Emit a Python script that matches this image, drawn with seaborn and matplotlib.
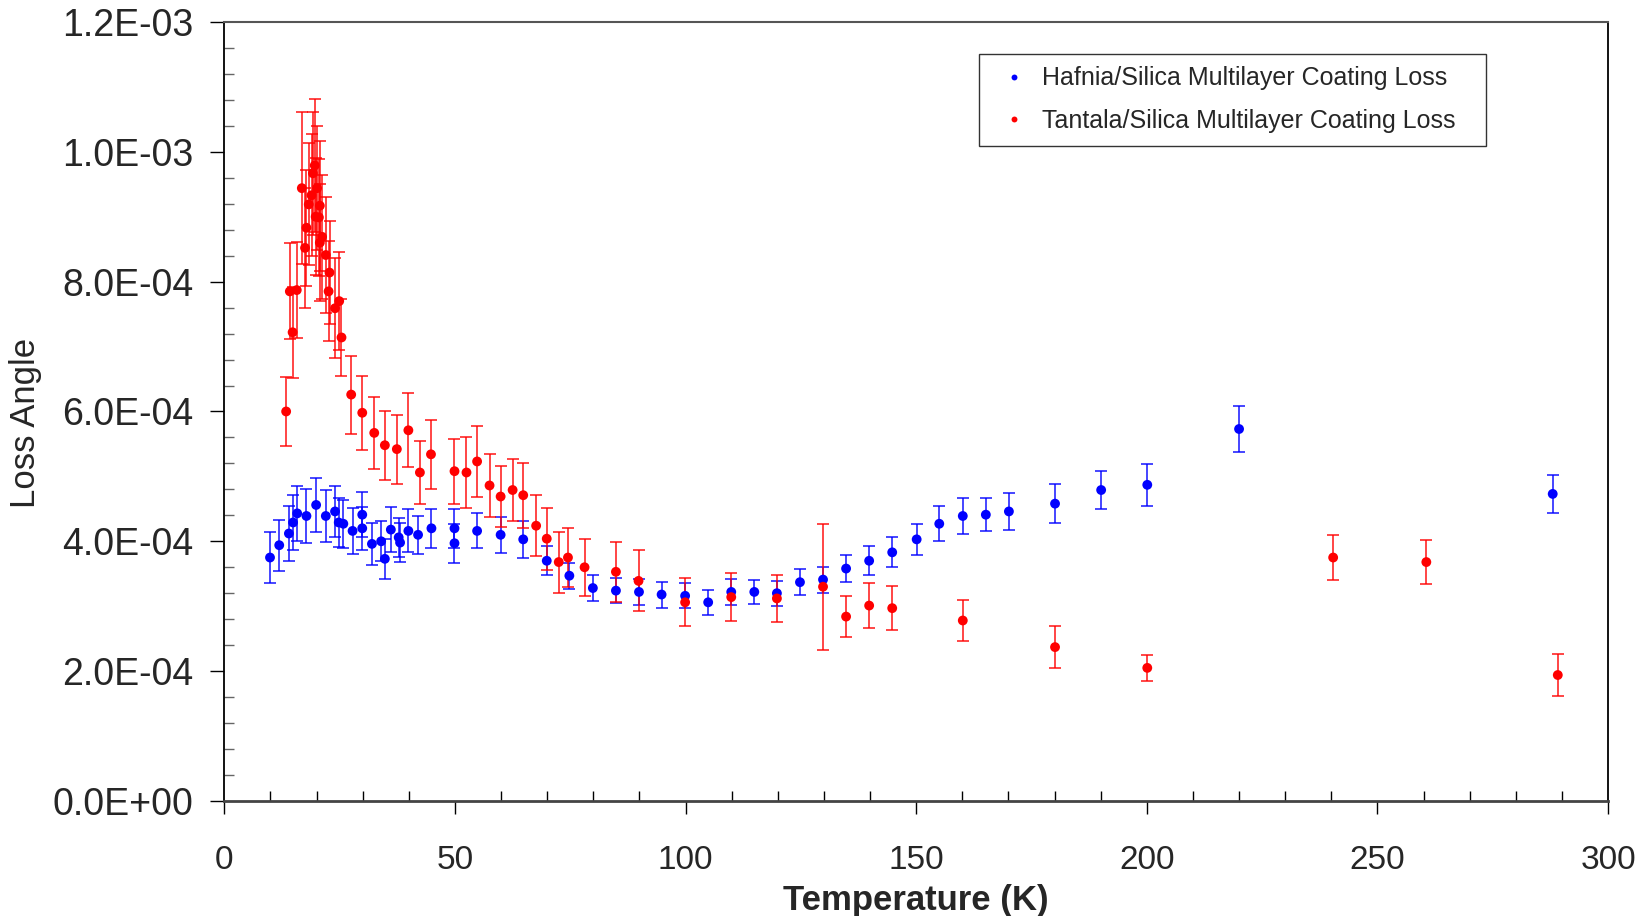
import numpy as np
import pandas as pd
import matplotlib
matplotlib.use("Agg")
import matplotlib.pyplot as plt
import seaborn as sns
from matplotlib.ticker import MultipleLocator, FuncFormatter

sns.set_style("white")
plt.rcParams["font.family"] = ["Liberation Sans", "DejaVu Sans"]

# Hafnia/Silica (blue): temperature (K), loss angle (1e-4), error (1e-4)
hafnia_T = [9.9, 11.9, 14.0, 14.9, 15.8, 17.8, 19.9, 22.0, 24.0, 24.8, 25.8, 27.8,
            29.9, 29.9, 32.0, 34.0, 34.8, 36.1, 37.8, 38.1, 39.9, 42.0, 44.9, 49.9,
            49.9, 54.8, 59.9, 64.8, 69.9, 74.8, 79.9, 84.9, 89.9, 94.8, 99.9, 104.9,
            109.9, 114.9, 119.8, 124.8, 129.8, 134.8, 139.8, 144.8, 150.1, 155.0,
            160.1, 165.1, 170.1, 180.1, 190.1, 200.1, 220.0, 288.0]
hafnia_loss = [3.75, 3.94, 4.12, 4.29, 4.43, 4.39, 4.56, 4.39, 4.46, 4.29, 4.27, 4.16,
               4.41, 4.20, 3.96, 4.00, 3.73, 4.18, 4.06, 3.98, 4.16, 4.10, 4.20, 4.20,
               3.97, 4.16, 4.10, 4.03, 3.70, 3.47, 3.28, 3.24, 3.22, 3.18, 3.16, 3.06,
               3.22, 3.22, 3.20, 3.37, 3.41, 3.58, 3.70, 3.83, 4.03, 4.27,
               4.39, 4.41, 4.46, 4.58, 4.79, 4.87, 5.73, 4.73]
hafnia_err = [0.40, 0.39, 0.42, 0.42, 0.42, 0.42, 0.41, 0.40, 0.39, 0.38, 0.37, 0.36,
              0.35, 0.33, 0.32, 0.31, 0.31, 0.35, 0.30, 0.30, 0.33, 0.29, 0.30, 0.30,
              0.30, 0.27, 0.28, 0.28, 0.22, 0.20, 0.20, 0.19, 0.20, 0.20, 0.19, 0.19,
              0.20, 0.19, 0.19, 0.20, 0.20, 0.21, 0.22, 0.23, 0.24, 0.27,
              0.27, 0.25, 0.28, 0.30, 0.29, 0.32, 0.36, 0.29]

# Tantala/Silica (red)
tantala_T = [13.4, 14.2, 14.8, 15.7, 16.8, 17.5, 17.8, 18.3, 18.9, 19.2, 19.6, 19.8,
             20.1, 20.5, 20.7, 20.7, 21.2, 22.0, 22.6, 22.8, 24.0, 24.9, 25.4, 27.5,
             29.9, 32.5, 34.8, 37.4, 39.9, 42.4, 44.8, 49.9, 52.5, 54.8, 57.5, 59.9,
             62.5, 64.8, 67.6, 69.9, 72.5, 74.5, 78.1, 84.9, 89.8, 99.9, 109.9, 119.8,
             129.8, 134.8, 139.8, 144.8, 160.1, 180.1, 200.1, 240.4, 260.6, 289.1]
tantala_loss = [6.00, 7.85, 7.22, 7.87, 9.44, 8.52, 8.83, 9.19, 9.33, 9.67, 9.79, 9.00,
                9.44, 8.99, 9.17, 8.60, 8.69, 8.41, 7.85, 8.14, 7.59, 7.70, 7.14, 6.26,
                5.98, 5.67, 5.48, 5.42, 5.71, 5.06, 5.34, 5.08, 5.06, 5.23, 4.86, 4.69,
                4.79, 4.71, 4.24, 4.04, 3.68, 3.75, 3.60, 3.53, 3.39, 3.06, 3.14, 3.12,
                3.30, 2.84, 3.01, 2.97, 2.78, 2.37, 2.05, 3.75, 3.68, 1.94]
tantala_err = [0.53, 0.74, 0.70, 0.74, 1.17, 0.93, 0.89, 0.94, 0.94, 0.95, 1.03, 0.90,
               0.96, 0.90, 1.00, 0.90, 0.96, 0.89, 0.77, 0.80, 0.77, 0.76, 0.60, 0.60,
               0.57, 0.55, 0.53, 0.53, 0.57, 0.49, 0.53, 0.50, 0.55, 0.54, 0.49, 0.47,
               0.48, 0.50, 0.47, 0.48, 0.47, 0.45, 0.44, 0.46, 0.47, 0.37, 0.37, 0.36,
               0.97, 0.31, 0.35, 0.34, 0.32, 0.32, 0.20, 0.34, 0.34, 0.32]

labels = ["Hafnia/Silica Multilayer Coating Loss", "Tantala/Silica Multilayer Coating Loss"]
colors = ["#0000FF", "#FF0000"]

df = pd.concat([
    pd.DataFrame({"T": hafnia_T, "loss": np.array(hafnia_loss) * 1e-4,
                  "err": np.array(hafnia_err) * 1e-4, "series": labels[0]}),
    pd.DataFrame({"T": tantala_T, "loss": np.array(tantala_loss) * 1e-4,
                  "err": np.array(tantala_err) * 1e-4, "series": labels[1]}),
], ignore_index=True)

fig = plt.figure(figsize=(16.52, 9.16), dpi=100)
ax = fig.add_axes([0.1358, 0.1256, 0.9734 - 0.1358, 0.976 - 0.1256])

for lab, col in zip(labels, colors):
    sub = df[df["series"] == lab]
    ax.errorbar(sub["T"], sub["loss"], yerr=sub["err"], fmt="none",
                ecolor=col, elinewidth=1.2, capsize=4.5, capthick=1.2, alpha=0.85, zorder=2)

sns.scatterplot(data=df, x="T", y="loss", hue="series", palette=colors,
                hue_order=labels, s=50, edgecolor="none", ax=ax, zorder=3)

ax.set_xlim(0, 300)
ax.set_ylim(0, 1.2e-3)
ax.xaxis.set_major_locator(MultipleLocator(50))
ax.xaxis.set_minor_locator(MultipleLocator(10))
ax.yaxis.set_major_locator(MultipleLocator(2e-4))
ax.yaxis.set_minor_locator(MultipleLocator(0.4e-4))
ax.yaxis.set_major_formatter(FuncFormatter(lambda v, p: "{:.1E}".format(v)))

ax.tick_params(axis="x", which="major", direction="out", length=9, width=1,
               labelsize=24, pad=23, color="black")
ax.tick_params(axis="x", which="minor", direction="in", length=7, width=1, color="black")
ax.tick_params(axis="y", which="major", direction="out", length=10, width=1,
               labelsize=27, pad=12, color="black")
ax.tick_params(axis="y", which="minor", direction="in", length=7, width=1, color="#666666")
ax.tick_params(bottom=True, left=True, top=False, right=False, which="both")

for side in ["left", "right"]:
    ax.spines[side].set_color("black")
    ax.spines[side].set_linewidth(1.3)
ax.spines["top"].set_color("#555555")
ax.spines["top"].set_linewidth(1.5)
ax.spines["bottom"].set_color("#444444")
ax.spines["bottom"].set_linewidth(2.0)

ax.set_xlabel("Temperature (K)", fontsize=25, fontweight="bold")
ax.set_ylabel("Loss Angle", fontsize=25)
ax.xaxis.set_label_coords(0.5, -0.107)
ax.yaxis.set_label_coords(-0.132, 0.485)

leg = ax.legend(loc="upper left", bbox_to_anchor=(0.5455, 0.8414, 0.3665, 0.1176),
                mode="expand", borderaxespad=0, fontsize=18, frameon=True,
                fancybox=False, markerscale=0.6, handletextpad=0.2, borderpad=0.5,
                labelspacing=0.75, handlelength=1.8)
leg.get_frame().set_edgecolor("black")
leg.get_frame().set_linewidth(1.0)

fig.savefig("out.png", dpi=100)
